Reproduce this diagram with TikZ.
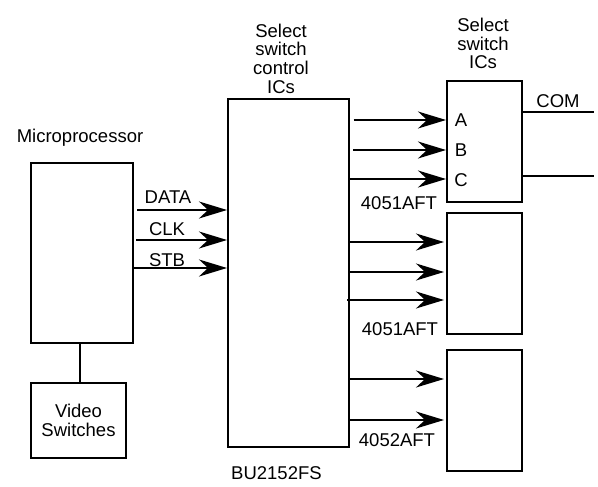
\documentclass[tikz,border=0pt]{standalone}
\usepackage{fontspec}
\setmainfont{Liberation Sans}
\usetikzlibrary{arrows.meta}
\begin{document}
\begin{tikzpicture}[x=1pt,y=-1pt,
  font=\fontsize{18.5}{18.6}\selectfont,
  box/.style={draw, line width=2pt, inner sep=0pt},
  arr/.style={line width=2pt, -{Stealth[length=28pt,width=17pt,inset=9pt]}},
  ln/.style={line width=2pt},
  lbl/.style={inner sep=0pt, align=center}]
\useasboundingbox (0,0) rectangle (598,487);
% boxes
\node[box, minimum width=102pt, minimum height=180pt] (mp) at (82,253) {};
\node[box, minimum width=95pt, minimum height=75pt, align=center] (vs) at (78.5,420.5) {Video\\Switches};
\node[box, minimum width=121pt, minimum height=348pt] (ctl) at (288.5,273) {};
\node[box, minimum width=75pt, minimum height=121pt] (s1) at (484.5,141.5) {};
\node[box, minimum width=75pt, minimum height=121pt] (s2) at (484.5,273.5) {};
\node[box, minimum width=75pt, minimum height=121pt] (s3) at (484.5,410.5) {};
% labels
\node[lbl] (mpl) at (80,138) {Microprocessor};
\node[lbl] (ctll) at (281,58.5) {Select\\switch\\control\\ICs};
\node[lbl] (sell) at (483,43.5) {Select\\switch\\ICs};
\node[lbl] (ld) at (168,197) {DATA};
\node[lbl] (lc) at (167,229) {CLK};
\node[lbl] (ls) at (167,260) {STB};
\node[lbl] (la) at (461,120) {A};
\node[lbl] (lb) at (461,150) {B};
\node[lbl] (lcc) at (461,180) {C};
\node[lbl] (com) at (558,101) {COM};
\node[lbl] (t1) at (399,203) {4051AFT};
\node[lbl] (t2) at (400,329) {4051AFT};
\node[lbl] (t3) at (397,440) {4052AFT};
\node[lbl, anchor=west] (bu) at (231,473) {BU2152FS};
% connectors
\draw[ln] (mp.south -| 80,0) -- (vs.north -| 80,0);
\draw[arr] (mp.east |- 0,210) ++(3,0) -- (ctl.west |- 0,210);
\draw[arr] (mp.east |- 0,240) ++(2,0) -- (ctl.west |- 0,240);
\draw[arr] (mp.east |- 0,268) -- (ctl.west |- 0,268);
\draw[arr] (ctl.east |- 0,120) ++(3.5,0) -- (s1.west |- 0,120);
\draw[arr] (ctl.east |- 0,150) ++(3,0) -- (s1.west |- 0,150);
\draw[arr] (ctl.east |- 0,179) -- (s1.west |- 0,179);
\draw[arr] (ctl.east |- 0,242) -- ([xshift=-2pt]s2.west |- 0,242);
\draw[arr] (ctl.east |- 0,272) -- ([xshift=-2pt]s2.west |- 0,272);
\draw[arr] (ctl.east |- 0,300) ++(-3,0) -- ([xshift=-2pt]s2.west |- 0,300);
\draw[arr] (ctl.east |- 0,379) -- ([xshift=-2pt]s3.west |- 0,379);
\draw[arr] (ctl.east |- 0,420) -- ([xshift=-2pt]s3.west |- 0,420);
\draw[ln] (s1.east |- 0,112) -- ++(71,0) coordinate (c1);
\draw[ln] (s1.east |- 0,176) -- ++(71,0) coordinate (c2);
\end{tikzpicture}
\end{document}
